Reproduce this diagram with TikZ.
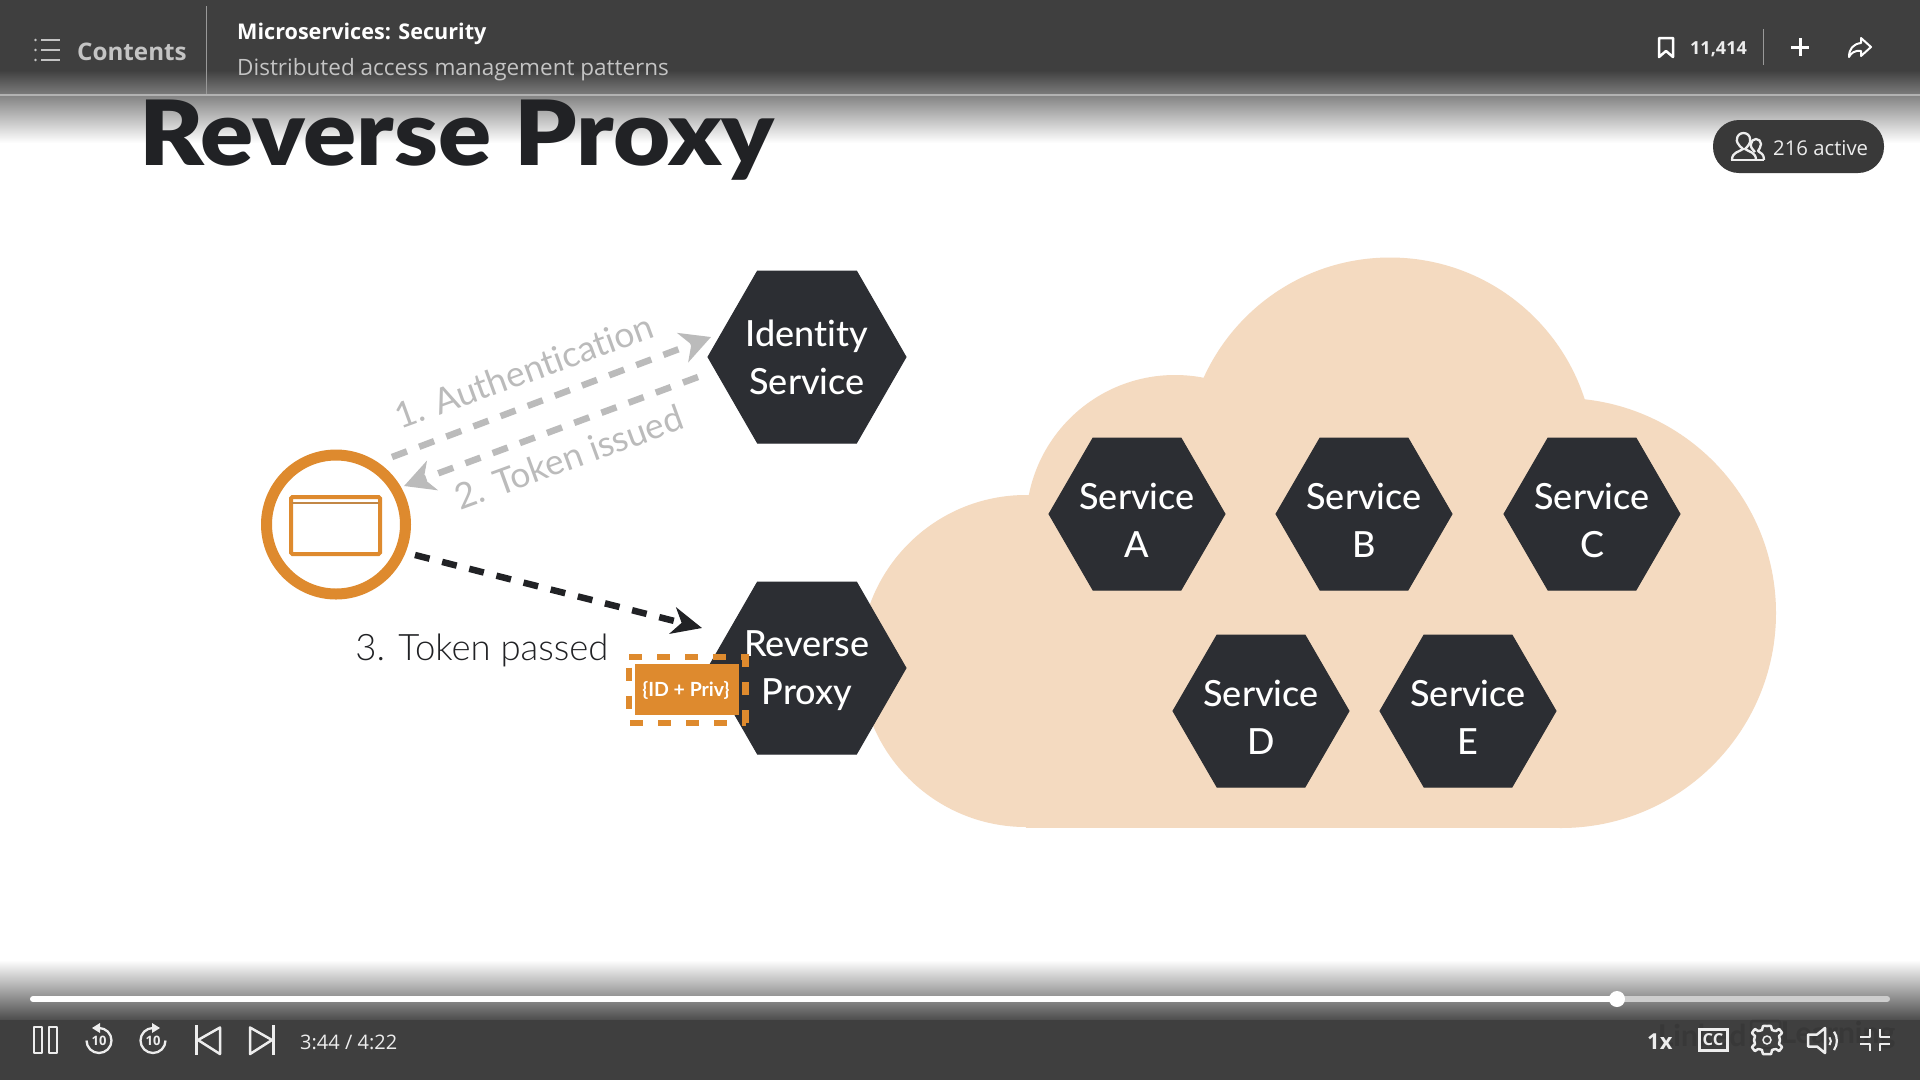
\documentclass[tikz,border=0pt]{standalone}
\usepackage{fontspec}
\usetikzlibrary{arrows.meta,calc}
\setmainfont{Lato}[Ligatures=NoCommon]
\newfontfamily\latolight{Lato Light}[Ligatures=NoCommon]
\newfontfamily\latomed{Lato Medium}[Ligatures=NoCommon]
\newfontfamily\titlefont{Lato Black}[FakeStretch=1.095,Ligatures=NoCommon]
\newfontfamily\uifont{Open Sans}
\definecolor{barc}{HTML}{3F3F3F}
\definecolor{hexc}{HTML}{2C2E33}
\definecolor{inkc}{HTML}{212225}
\definecolor{cloudc}{HTML}{F4DAC0}
\definecolor{orangec}{HTML}{DE8A2E}
\definecolor{grayarrow}{HTML}{BBBBBB}
\definecolor{uigray}{HTML}{C4C4C4}
\definecolor{uiwhite}{HTML}{EDEDED}
\definecolor{wm}{HTML}{383838}
\newcommand{\fsz}[2]{\fontsize{#1}{#2}\selectfont}
\tikzset{
  hexfill/.style={fill=hexc,draw=hexc,line width=1pt,line join=miter},
  hextext/.style={text=white,align=center,inner sep=0pt,font=\latomed\fsz{36}{48}},
  cloudfill/.style={fill=cloudc,draw=none},
  greyflow/.style={draw=grayarrow,line width=6.5pt,dash pattern=on 16pt off 13pt,-{Stealth[length=30pt,width=31pt,inset=9pt,fill=grayarrow]}},
  blackflow/.style={draw=inkc,line width=6.5pt,dash pattern=on 15pt off 13pt,-{Stealth[length=30pt,width=27pt,inset=9pt,fill=inkc]}},
  greylabel/.style={text=grayarrow,rotate=20,inner sep=0pt,font=\fsz{35.5}{40}},
  uilabel/.style={inner sep=0pt,anchor=west,font=\uifont},
  icon/.style={draw=uiwhite,line width=2.5pt,line join=round},
  iconsoft/.style={draw=uigray,line width=2.5pt,line join=round},
  tokendash/.style={draw=orangec,line width=6pt,dash pattern=on 13pt off 15pt},
}
\newcommand{\hexagon}[7]{% name cx cy halfwidth halfheight text textshift
  \fill[hexfill] ({#2-#4},#3) -- ({#2-#4/2},{#3-#5}) -- ({#2+#4/2},{#3-#5}) -- ({#2+#4},#3) -- ({#2+#4/2},{#3+#5}) -- ({#2-#4/2},{#3+#5}) -- cycle;
  \node[hextext] (#1) at (#2,{#3+#7}) {#6};
}
\begin{document}
\begin{tikzpicture}[x=1pt,y=-1pt]
\useasboundingbox (0,0) rectangle (1920,1080);
\fill[white] (0,0) rectangle (1920,1080);
% cloud
\fill[cloudfill] (1390,462) circle (204.5pt);
\fill[cloudfill] (1175,524) circle (149pt);
\fill[cloudfill] (1026,661) circle (166pt);
\fill[cloudfill] (1561,613) circle (215pt);
\fill[cloudfill] (1026,600) rectangle (1561,828);
\fill[cloudfill] (1175,500) rectangle (1561,700);
% hexagons
\hexagon{identity}{807}{357}{99}{86}{Identity\\Service}{0}
\hexagon{proxy}{807}{668}{99}{86}{Reverse\\Proxy}{3}
\hexagon{svca}{1137}{514}{88}{76}{Service\\A}{6}
\hexagon{svcb}{1364}{514}{88}{76}{Service\\B}{6}
\hexagon{svcc}{1592}{514}{88}{76}{Service\\C}{6}
\hexagon{svcd}{1261}{711}{88}{76}{Service\\D}{6}
\hexagon{svce}{1468}{711}{88}{76}{Service\\E}{6}
% client
\node[draw=orangec,line width=11pt,circle,minimum size=139pt,inner sep=0pt] (client) at (336,524.5) {};
\node[draw=orangec,line width=4pt,rounded corners=1.5pt,minimum width=89pt,minimum height=57pt,inner sep=0pt] (window) at (335.5,525.5) {};
\draw[orangec!70!gray,line width=1.5pt] (292,503) -- (379,503);
% flows
\coordinate (authA) at (392,457);
\coordinate (authB) at (711,337);
\coordinate (tokA) at (698,377);
\coordinate (tokB) at (404,486);
\coordinate (passA) at (415,555);
\coordinate (passB) at (702,628);
\draw[greyflow] (authA) -- (authB);
\draw[greyflow] (tokA) -- (tokB);
\draw[blackflow] (passA) -- (passB);
\node[greylabel] (authlabel) at (524,371) {1. Authentication};
\node[greylabel] (toklabel) at (569,457) {2. Token issued};
\node[inner sep=0pt,text=inkc,font=\latolight\fsz{36.5}{40}] (passlabel) at (482,650) {3. Token passed};
% token
\fill[orangec] (635,664) rectangle (739,715);
\node[inner sep=0pt,text=white,font=\bfseries\fsz{19.5}{22}] (tokentext) at (686,690) {\{ID + Priv\}};
\draw[tokendash] (629,657) -- (746,657);
\draw[tokendash] (630,723) -- (746,723);
\draw[tokendash] (629,667.5) -- (629,716);
\draw[tokendash,line width=7pt] (745,654) -- (745,725);
% top bar
\fill[barc] (0,0) rectangle (1920,71);
\shade[top color=barc,bottom color=black!52] (0,70) rectangle (1920,94);
\shade[top color=black!48,bottom color=white] (0,96) rectangle (1920,143);
\fill[black!30] (0,94) rectangle (1920,96);
\draw[black!40,line width=1pt] (206.5,6) -- (206.5,94);
% title
\node[inner sep=0pt,anchor=base west,text=inkc,font=\titlefont\fsz{90}{100}] (title) at (139,165) {Reverse Proxy};
% header
\foreach \yy in {40,50,60}{
  \draw[uigray,line width=2pt] (41,\yy) -- (60,\yy);
  \fill[uigray] (35.5,\yy) circle (1.3pt);
}
\node[uilabel,text=uigray,font=\uifont\bfseries\fsz{24.2}{30}] (contents) at (77,52) {Contents};
\node[uilabel,text=white,font=\uifont\bfseries\fsz{21.6}{26}] (course) at (237,34) {Microservices: Security};
\node[uilabel,text=uigray,font=\uifont\fsz{22.5}{26}] (chapter) at (237,70) {Distributed access management patterns};
\draw[icon,draw=white] (1659,38) -- (1673,38) -- (1673,57) -- (1666,51) -- (1659,57) -- cycle;
\node[uilabel,text=uiwhite,font=\uifont\bfseries\fsz{18}{22}] (saves) at (1690,49) {11,414};
\draw[black!40,line width=1pt] (1763,29) -- (1763,65);
\draw[icon,draw=white,line width=3pt] (1791,47) -- (1809,47) (1800,38) -- (1800,56);
\draw[icon,draw=white,line width=2pt] (1861,38) -- (1871,47) -- (1861,56) -- (1861,51) .. controls (1855,50) and (1851,53) .. (1849,57) .. controls (1849,49) and (1853,44) .. (1861,43) -- cycle;
% pill
\fill[barc!90!black,rounded corners=26pt] (1713,120) rectangle (1884,173);
\node[uilabel,text=uiwhite,font=\uifont\fsz{20.3}{26}] (active) at (1773,148) {216 active};
\draw[uiwhite,line width=2.3pt,line join=round] (1731,160) -- (1764,160);
\draw[uiwhite,line width=2.3pt,line join=round] (1732,160) .. controls (1732,152) and (1739,152) .. (1743,149) .. controls (1738,145) and (1736,141) .. (1737,139) arc (180:0:6.5pt and 6pt) .. controls (1751,143) and (1748,146) .. (1745,149) .. controls (1749,152) and (1756,152) .. (1756,160);
\draw[uiwhite,line width=2.3pt,line join=round] (1755,152) .. controls (1752,149) and (1750,146) .. (1751,144) arc (180:0:5pt and 5pt) .. controls (1761,147) and (1759,149) .. (1758,151) .. controls (1761,153) and (1764,154) .. (1764,160);
% bottom bar
\shade[top color=white,bottom color=black!70] (0,960) rectangle (1920,1020);
\fill[barc] (0,1020) rectangle (1920,1080);
% progress
\draw[uigray!85!white,line width=6pt,line cap=round] (1617,999) -- (1887,999);
\draw[white,line width=6pt,line cap=round] (33,999) -- (1617,999);
\fill[white] (1617,999) circle (8pt);
% controls left
\draw[iconsoft,draw=uiwhite,line width=2pt] (34,1027) rectangle (42,1053);
\draw[iconsoft,draw=uiwhite,line width=2pt] (49,1027) rectangle (57,1053);
\draw[icon,line width=2.3pt] (99,1028) arc (90:-180:12.5pt);
\fill[uiwhite] (92,1028) -- (100,1023) -- (100,1033) -- cycle;
\node[inner sep=0pt,text=uiwhite,font=\uifont\bfseries\fsz{13}{15}] (back10) at (99,1040.5) {10};
\draw[icon,line width=2.3pt] (153,1028) arc (90:360:12.5pt);
\fill[uiwhite] (160,1028) -- (152,1023) -- (152,1033) -- cycle;
\node[inner sep=0pt,text=uiwhite,font=\uifont\bfseries\fsz{13}{15}] (fwd10) at (153,1040.5) {10};
\draw[icon] (196.5,1025) -- (196.5,1055);
\draw[icon] (198,1040) -- (220,1027.5) -- (220,1054) -- cycle;
\draw[icon] (273.5,1025) -- (273.5,1055);
\draw[icon] (272,1040) -- (250,1027.5) -- (250,1054) -- cycle;
\node[uilabel,text=uiwhite,font=\uifont\fsz{20}{24}] (time) at (300,1042) {3:44 / 4:22};
% watermark
\node[inner sep=0pt,text=wm,font=\bfseries\fsz{30}{34}] (wm1) at (1702,1035) {Linked};
\node[inner sep=0pt,text=wm,font=\bfseries\fsz{30}{34}] (wm2) at (1838,1035) {Learning};
\draw[wm,line width=2.5pt,rounded corners=2pt] (1751,1021) rectangle (1780,1048);
% controls right
\node[uilabel,text=uiwhite,font=\uifont\bfseries\fsz{22}{26}] (speed) at (1647,1042) {1x};
\draw[uiwhite,line width=3pt] (1699,1029) rectangle (1727,1050);
\node[inner sep=0pt,text=uiwhite,font=\uifont\bfseries\fsz{16.5}{18}] (cc) at (1713,1039.5) {CC};
\draw[icon] plot[smooth cycle,tension=0.25] coordinates {
 (1767,1026)(1771,1026)(1772,1030)(1776,1031)(1779,1029)(1782,1033)(1779,1036)(1780,1040)
 (1779,1044)(1782,1047)(1779,1051)(1776,1049)(1772,1050)(1771,1054)(1763,1054)(1762,1050)
 (1758,1049)(1755,1051)(1752,1047)(1755,1044)(1754,1040)(1755,1036)(1752,1033)(1755,1029)(1758,1031)(1762,1030)(1763,1026)};
\draw[uiwhite,line width=1.5pt] (1767,1040) circle (4pt);
\draw[icon] (1808,1034.5) -- (1817,1034.5) -- (1825,1028) -- (1825,1053) -- (1817,1046.5) -- (1808,1046.5) -- cycle;
\draw[uiwhite,line width=2pt] (1829.5,1045) arc (-40:40:6pt);
\draw[uiwhite,line width=2.2pt] (1834,1050) arc (-35:35:16pt);
\draw[icon] (1860,1037) -- (1870,1037) -- (1870,1029);
\draw[icon] (1880,1029) -- (1880,1037) -- (1890,1037);
\draw[icon] (1860,1044) -- (1870,1044) -- (1870,1051);
\draw[icon] (1880,1051) -- (1880,1044) -- (1890,1044);
\end{tikzpicture}
\end{document}
